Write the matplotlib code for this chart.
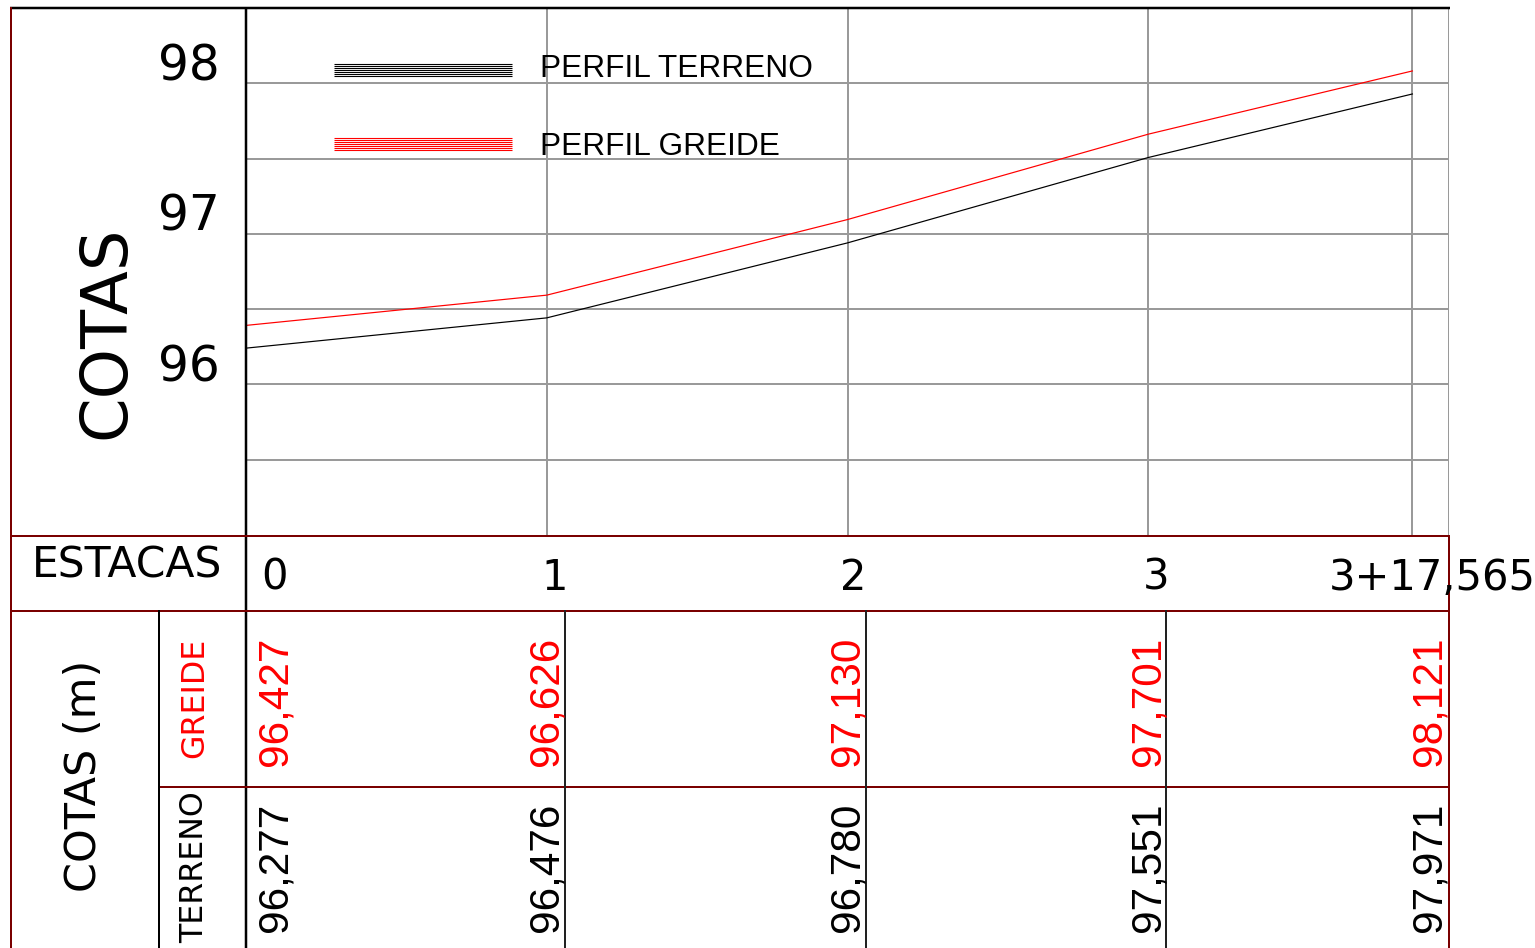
import matplotlib
matplotlib.use("Agg")
import matplotlib.pyplot as plt

# ---------------- data ----------------
station_labels = ["0", "1", "2", "3", "3+17,565"]
station_m = [0, 20, 40, 60, 77.565]          # distance in metres
# profile lines as drawn in the chart
greide_line = [96.392, 96.593, 97.095, 97.662, 98.082]
terreno_line = [96.241, 96.442, 96.940, 97.507, 97.929]
# elevations printed in the table
greide_txt = ["96,427", "96,626", "97,130", "97,701", "98,121"]
terreno_txt = ["96,277", "96,476", "96,780", "97,551", "97,971"]
ytick_vals = [96, 97, 98]
ygrid_vals = [95.5, 96, 96.5, 97, 97.5, 98]

# ---------------- layout ----------------
W, H = 1535, 948
fig = plt.figure(figsize=(W / 100, H / 100), dpi=100)
fig.patch.set_facecolor("white")

def frac(x0, y0, x1, y1):
    return [x0 / W, 1 - y1 / H, (x1 - x0) / W, (y1 - y0) / H]

DARKRED = "#7a0000"
GRID = "#9a9a9a"
RED = "#ff0000"
PX = 0.72  # one pixel in points

ax = fig.add_axes(frac(246, 8, 1449, 535))
ax.set_xlim(0, 80)
ax.set_ylim(95, 98.5)
for s in ax.spines.values():
    s.set_visible(False)
ax.set_xticks([])
ax.set_yticks([])

for v in ygrid_vals:
    ax.axhline(v, color=GRID, lw=2 * PX, zorder=1)
for m in station_m[1:]:
    ax.axvline(m, color=GRID, lw=2 * PX, zorder=1)
ax.axvline(80, color=GRID, lw=2 * PX, zorder=1)

ax.plot(station_m, terreno_line, color="black", lw=1.2 * PX, zorder=3)
ax.plot(station_m, greide_line, color=RED, lw=1.2 * PX, zorder=3)

for v in ytick_vals:
    ax.annotate(str(v), xy=(0, v), xycoords=("axes fraction", "data"),
                xytext=(-26, 17), textcoords="offset pixels",
                ha="right", va="center", fontsize=35, family="DejaVu Sans")

# overlay in pixel coordinates
ov = fig.add_axes([0, 0, 1, 1], zorder=5)
ov.set_xlim(0, W)
ov.set_ylim(H, 0)
ov.axis("off")
ov.patch.set_alpha(0)

fig.canvas.draw()
def xpix(m):
    return ax.transData.transform((m, 95))[0]

sx = [xpix(m) for m in station_m]
xl, xr = xpix(0), xpix(80)

def hline(y, x0, x1, c, lw=2):
    ov.plot([x0, x1], [y, y], color=c, lw=lw * PX, solid_capstyle="butt")

def vline(x, y0, y1, c, lw=2):
    ov.plot([x, x], [y0, y1], color=c, lw=lw * PX, solid_capstyle="butt")

# borders
hline(8, 10, xr + 1, "black", 2.5)
vline(11, 7, H, DARKRED, 2)
vline(xl, 7, H, "black", 2.5)
vline(xr, 535, H, DARKRED, 2)
hline(535.5, 10, xr + 1, DARKRED, 2)
hline(610.5, 10, xr + 1, DARKRED, 2)
hline(787, 159, xr + 1, DARKRED, 2)
vline(159, 610, H, "black", 2)
col_sep = [sx[1] + 18, sx[2] + 18, sx[3] + 18]
for x in col_sep:
    vline(x, 610, H, "#222222", 2)

# legend
for i in range(7):
    hline(64 + 2 * i, 334, 512, "black", 1.1)
    hline(138 + 2 * i, 334, 512, RED, 1.1)
ov.text(540, 77, "PERFIL TERRENO", fontsize=22.8, family="Liberation Sans",
        ha="left", va="baseline")
ov.text(540, 155, "PERFIL GREIDE", fontsize=22.8, family="Liberation Sans",
        ha="left", va="baseline")

# left titles
ov.text(106, 332, "COTAS", fontsize=46, rotation=90, ha="center", va="center",
        family="DejaVu Sans")
ov.text(32, 578, "ESTACAS", fontsize=30.6, ha="left", va="baseline",
        family="DejaVu Sans")
ov.text(84, 776, "COTAS (m)", fontsize=31, rotation=90, ha="center", va="center",
        family="DejaVu Sans")
ov.text(195, 698, "GREIDE", fontsize=22.8, rotation=90, ha="center", va="center",
        color=RED, family="DejaVu Sans")
ov.text(195, 867, "TERRENO", fontsize=22.8, rotation=90, ha="center", va="center",
        color="black", family="DejaVu Sans")

# station labels
st_off = [28, 8, 6, 8, 20]
for x, lab, o in zip(sx, station_labels, st_off):
    ov.text(x + o, 590, lab, fontsize=30, ha="center", va="baseline",
            family="DejaVu Sans")

# elevation values
val_base = [xl + 40] + [c - 7 for c in col_sep] + [xr - 9]
for xb, g, t in zip(val_base, greide_txt, terreno_txt):
    ov.text(xb, 766, g, fontsize=30.5, rotation=90, rotation_mode="anchor",
            ha="left", va="baseline", color=RED, family="Liberation Sans")
    ov.text(xb, 932, t, fontsize=30.5, rotation=90, rotation_mode="anchor",
            ha="left", va="baseline", color="black", family="Liberation Sans")

fig.savefig("out.png", dpi=100, facecolor="white")
